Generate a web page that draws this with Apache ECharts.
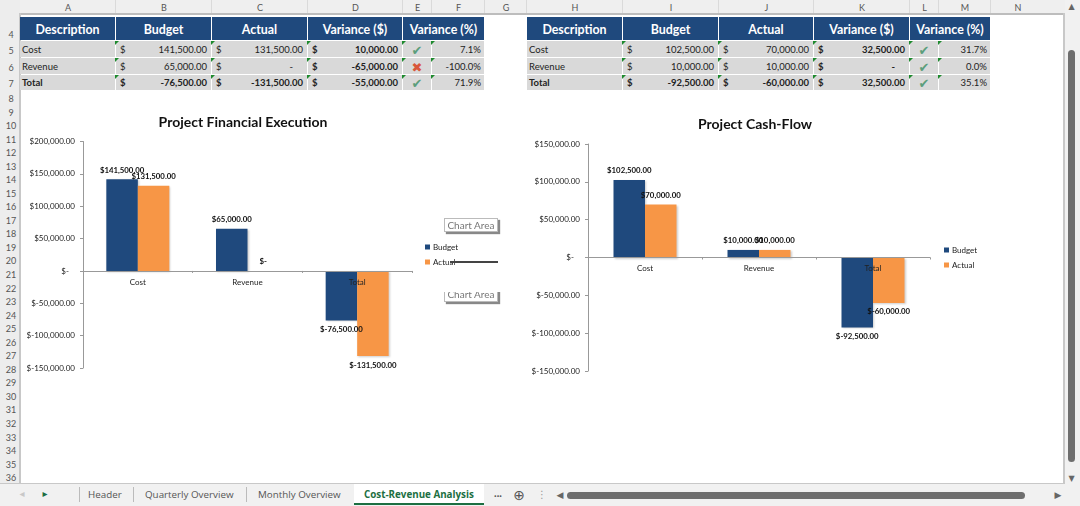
<!DOCTYPE html>
<html>
<head>
<meta charset="utf-8">
<style>
html,body{margin:0;padding:0;background:#fff;width:1080px;height:506px;overflow:hidden;font-family:Lato,"Noto Sans",sans-serif}
#sheet{position:absolute;left:0;top:0;width:1080px;height:506px}
.b{position:absolute;box-sizing:border-box}
.t{position:absolute;white-space:nowrap;line-height:1}
#chart1{position:absolute;left:20px;top:100px;width:490px;height:290px}
#chart2{position:absolute;left:520px;top:100px;width:490px;height:290px}
</style>
<script src="https://cdn.jsdelivr.net/npm/echarts@6/dist/echarts.min.js"></script>
</head>
<body>
<div id="sheet"></div>
<div id="chart1"></div>
<div id="chart2"></div>
<script>
var categories = ['Cost', 'Revenue', 'Total'];
var budget1 = [141500, 65000, -76500];
var actual1 = [131500, 0, -131500];
var budget2 = [102500, 10000, -92500];
var actual2 = [70000, 10000, -60000];

var headers = ['Description', 'Budget', 'Actual', 'Variance ($)', 'Variance (%)'];
var table1 = [
  ['Cost', '141,500.00', '131,500.00', '10,000.00', 'ok', '7.1%'],
  ['Revenue', '65,000.00', '-', '-65,000.00', 'bad', '-100.0%'],
  ['Total', '-76,500.00', '-131,500.00', '-55,000.00', 'ok', '71.9%']
];
var table2 = [
  ['Cost', '102,500.00', '70,000.00', '32,500.00', 'ok', '31.7%'],
  ['Revenue', '10,000.00', '10,000.00', '-', 'ok', '0.0%'],
  ['Total', '-92,500.00', '-60,000.00', '32,500.00', 'ok', '35.1%']
];
var colLetters = ['A', 'B', 'C', 'D', 'E', 'F', 'G', 'H', 'I', 'J', 'K', 'L', 'M', 'N'];
var colEdges = [20, 116, 212, 308, 403, 432, 485, 527, 623, 719, 814, 910, 939, 991, 1045];
var tabs = ['Header', 'Quarterly Overview', 'Monthly Overview', 'Cost-Revenue Analysis'];

var BLUE = '#1F497D', ORANGE = '#F79646', GREY = '#D9D9D9';
var sheet = document.getElementById('sheet');

function box(x, y, w, h, color) {
  var d = document.createElement('div');
  d.className = 'b';
  d.style.cssText = 'left:' + x + 'px;top:' + y + 'px;width:' + w + 'px;height:' + h + 'px;background:' + color;
  sheet.appendChild(d);
  return d;
}
function text(str, x, y, size, color, align, bold, font) {
  var d = document.createElement('div');
  d.className = 't';
  d.textContent = str;
  var tx = align == 'center' ? '-50%' : align == 'right' ? '-100%' : '0';
  d.style.cssText = 'left:' + x + 'px;top:' + y + 'px;font-size:' + size + 'px;color:' + color +
    ';transform:translate(' + tx + ',-50%);font-weight:' + (bold ? 'bold' : 'normal') +
    (font ? ';font-family:' + font : '');
  sheet.appendChild(d);
  return d;
}
function corner(x, y) {
  var d = box(x, y, 0, 0, 'transparent');
  d.style.borderTop = '4px solid #1E8A2E';
  d.style.borderRight = '4px solid transparent';
}

// worksheet frame
box(0, 0, 1080, 14, '#EFEFEF');
box(0, 0, 20, 484, '#EDEDED');
box(20, 13, 1044, 2, '#BDBDBD');
box(19, 13, 2, 471, '#C8C8C8');
box(1063, 13, 2, 471, '#C8C8C8');
box(1065, 0, 15, 484, '#F1F1F1');
box(0, 484, 1080, 22, '#F1F1F1');
box(0, 483, 1065, 1, '#C8C8C8');

for (var i = 0; i < colLetters.length; i++) {
  text(colLetters[i], (colEdges[i] + colEdges[i + 1]) / 2, 7, 9, '#555', 'center');
  if (i > 0) box(colEdges[i] - 1, 0, 1, 13, '#DADADA');
}
var rowYs = {4: 34, 5: 50, 6: 67, 7: 83};
for (var r = 4; r <= 36; r++) {
  var ry = rowYs[r] || 98 + 13.54 * (r - 8);
  text(String(r), 11, ry, 9, '#555', 'center');
}

function drawTable(rows, firstCol) {
  for (var c = 0; c < 5; c++) {
    var x0 = colEdges[firstCol + c];
    var x1 = c == 4 ? colEdges[firstCol + 6] - 1 : colEdges[firstCol + c + 1] - 1;
    box(x0, 17, x1 - x0, 23, BLUE);
    text(headers[c], (x0 + x1) / 2, 29.5, 12.4, '#fff', 'center', true);
  }
  var ys = [41, 58, 75], hs = [16, 16, 15];
  for (var r = 0; r < rows.length; r++) {
    var row = rows[r], isTotal = row[0] == 'Total', y = ys[r], cy = y + hs[r] / 2 + 0.5;
    for (var k = 0; k < 6; k++) {
      var xa = colEdges[firstCol + k], xb = colEdges[firstCol + k + 1] - 1;
      box(xa, y, xb - xa, hs[r], GREY);
      if (k > 0) corner(xa - 1, y - 0.5);
      if (k == 0) text(row[0], xa + 2, cy, 9.5, '#222', 'left', isTotal);
      else if (k < 4) {
        var bold = isTotal || k == 3;
        text('$', xa + 4, cy, 9.5, '#222', 'left', bold);
        text(row[k], row[k] == '-' ? xb - 14 : xb - 4, cy, 9.5, '#222', 'right', bold);
      } else if (k == 4) {
        text(row[k] == 'ok' ? '\u2714' : '\u2716', (xa + xb) / 2, cy, 13,
          row[k] == 'ok' ? '#5C9E7C' : '#D9563A', 'center', false, '"DejaVu Sans"');
      } else text(row[k], xb - 3, cy, 9.5, '#222', 'right');
    }
  }
}
drawTable(table1, 0);
drawTable(table2, 7);

// sheet tabs and scrollbars
box(354, 484, 130, 20, '#fff');
box(354, 503, 130, 2, '#1D6F42');
var tabX = [88, 145, 258, 364];
for (var j = 0; j < tabs.length; j++) {
  text(tabs[j], tabX[j], 495, 9.8, j == 3 ? '#1D6F42' : '#555', 'left', j == 3, '"Open Sans"');
}
[79, 133, 246].forEach(function (x) { box(x, 487, 1, 15, '#BBB'); });
text('\u25B8', 45, 494, 10, '#1D6F42', 'center', false, '"DejaVu Sans"');
text('\u25C2', 22, 494, 10, '#C8C8C8', 'center', false, '"DejaVu Sans"');
text('...', 498, 492, 11, '#555', 'center', true);
text('\u2295', 519, 495, 14, '#555', 'center', false, '"DejaVu Sans"');
text('\u22EE', 542, 495, 10, '#999', 'center', false, '"DejaVu Sans"');
text('\u25C0', 560, 495, 9, '#666', 'center', false, '"DejaVu Sans"');
text('\u25B6', 1058, 495, 9, '#666', 'center', false, '"DejaVu Sans"');
var hThumb = box(567, 492, 458, 7, '#6E6E6E'); hThumb.style.borderRadius = '4px';
var vThumb = box(1068, 50, 7, 412, '#6E6E6E'); vThumb.style.borderRadius = '4px';
text('\u25B2', 1071.5, 7, 8, '#666', 'center', false, '"DejaVu Sans"');
text('\u25BC', 1071.5, 479, 8, '#666', 'center', false, '"DejaVu Sans"');

function money(v) {
  if (v == 0) return '$-';
  var s = Math.abs(v).toLocaleString('en-US', {minimumFractionDigits: 2, maximumFractionDigits: 2});
  return (v < 0 ? '$-' : '$') + s;
}

function barSeries(name, values, color) {
  return {
    name: name,
    type: 'bar',
    // a zero bar has no direction, its label sits above the axis
    data: values.map(function (v) {
      return v == 0 ? {value: v, label: {position: 'top'}} : v;
    }),
    barWidth: 31.5,
    barGap: 0,
    itemStyle: {
      color: color,
      shadowBlur: 2,
      shadowColor: 'rgba(0,0,0,0.2)',
      shadowOffsetX: 1,
      shadowOffsetY: 1
    },
    label: {
      show: true,
      position: 'outside',
      distance: 5,
      fontFamily: 'Lato',
      fontSize: 7.8,
      fontWeight: 'bold',
      color: '#111',
      formatter: function (p) { return money(p.value); }
    }
  };
}

function makeOption(titleText, titleX, titleY, gridBox, yMin, yMax, legendPos, budget, actual) {
  return {
    animation: false,
    title: {
      text: titleText,
      left: titleX,
      top: titleY,
      textAlign: 'center',
      textStyle: {fontFamily: 'Lato', fontSize: 14, fontWeight: 'bold', color: '#111'}
    },
    legend: {
      data: ['Budget', 'Actual'],
      orient: 'vertical',
      left: legendPos[0],
      top: legendPos[1],
      itemWidth: 5,
      itemHeight: 5,
      itemGap: 7,
      icon: 'rect',
      textStyle: {fontFamily: 'Lato', fontSize: 8, color: '#222', padding: [0, 0, 0, -2]}
    },
    grid: gridBox,
    xAxis: {
      type: 'category',
      data: categories,
      z: 5,
      position: 'bottom',
      // lift the whole axis up to the zero line, labels included
      offset: -gridBox.height * (0 - yMin) / (yMax - yMin),
      axisLine: {onZero: false, lineStyle: {color: '#999'}},
      axisTick: {show: true, length: 2, lineStyle: {color: '#999'}},
      axisLabel: {fontFamily: 'Lato', fontSize: 8, color: '#222', margin: 7}
    },
    yAxis: {
      type: 'value',
      min: yMin,
      max: yMax,
      interval: 50000,
      splitLine: {show: false},
      axisLine: {show: true, lineStyle: {color: '#999'}},
      axisTick: {show: true, length: 3, lineStyle: {color: '#999'}},
      axisLabel: {
        fontFamily: 'Lato',
        fontSize: 8,
        color: '#222',
        margin: 8,
        formatter: function (v) { return v == 0 ? '$-   ' : money(v); }
      }
    },
    series: [barSeries('Budget', budget, BLUE), barSeries('Actual', actual, ORANGE)]
  };
}

var myChart1 = echarts.init(document.getElementById('chart1'));
myChart1.setOption(makeOption('Project Financial Execution', 218, 10,
  {left: 63, top: 41.5, width: 329, height: 226.5}, -150000, 200000, [400, 138], budget1, actual1));

var myChart2 = echarts.init(document.getElementById('chart2'));
myChart2.setOption(makeOption('Project Cash-Flow', 230, 12,
  {left: 68, top: 44, width: 342, height: 227}, -150000, 150000, [419, 141], budget2, actual2));

// the leftover "Chart Area" tooltips stuck on the first chart
function ghost(x, y, w, h) {
  var d = box(x, y, w, h, '#fff');
  d.style.border = '1px solid #bbb';
  d.style.boxShadow = '2px 2px 1px #888';
  d.style.zIndex = 5;
  return d;
}
function ghostText(y) {
  var t = text('Chart Area', 471, y, 10, '#777', 'center');
  t.style.zIndex = 6;
}
ghost(444, 218, 54, 14);
ghostText(224.5);
ghost(444, 288, 54, 14);
ghostText(294);
box(442, 280, 60, 12, '#fff').style.zIndex = 7;
box(450, 261, 48, 2, '#444').style.zIndex = 5;
</script>
</body>
</html>
